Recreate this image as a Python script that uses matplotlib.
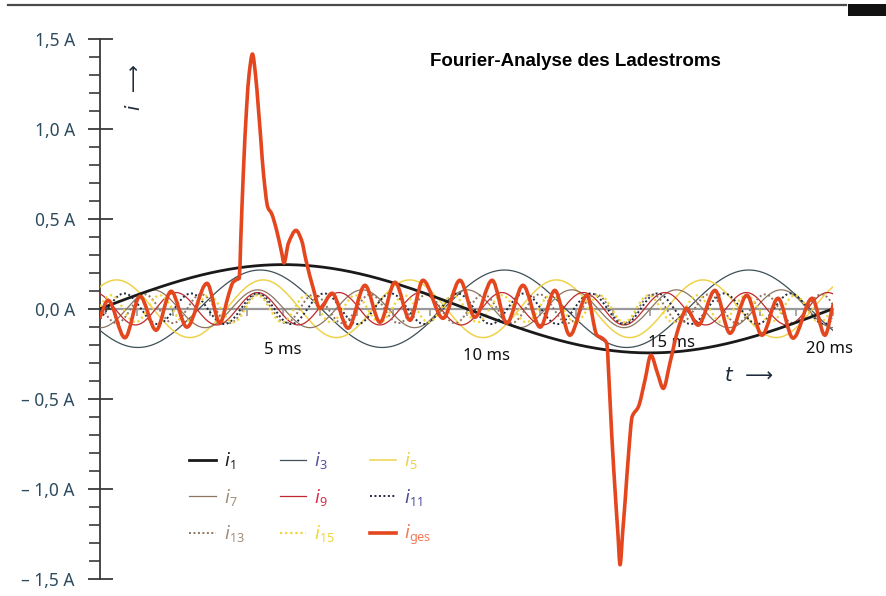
import numpy as np
import matplotlib.pyplot as plt
from matplotlib.path import Path
from matplotlib.patches import PathPatch
from matplotlib.lines import Line2D

# --- data -------------------------------------------------------------------
period_ms = 20.0
orders = [1, 3, 5, 7, 9, 11, 13, 15]
amplitudes = [0.245, 0.215, 0.16, 0.105, 0.09, 0.085, 0.08, 0.075]   # A
peak_times = [5.0, 4.37, 4.45, 4.3, 4.3, 4.3, 4.3, 4.3]              # ms, time of a maximum

# total charging current (ms, A)
ges_t = [0.00, 0.22, 0.68, 1.09, 1.53, 1.94, 2.37, 2.92, 3.27, 3.52, 3.63, 3.74,
         3.80, 3.84, 3.91, 4.00, 4.07, 4.16, 4.24, 4.32, 4.39, 4.46, 4.58, 4.68,
         4.82, 4.96, 5.02, 5.14, 5.35, 5.50, 5.62, 5.82, 6.00, 6.33, 6.77, 7.23,
         7.64, 8.05, 8.46, 8.81, 9.36, 9.82, 10.23, 10.70, 11.10, 11.54, 12.01,
         12.41, 12.82, 13.29, 13.56, 13.70, 13.83, 13.87, 13.96, 14.07, 14.13,
         14.19, 14.26, 14.33, 14.43, 14.52, 14.69, 14.87, 15.03, 15.21, 15.37,
         15.55, 15.74, 15.92, 15.99, 16.32, 16.78, 17.19, 17.65, 18.06, 18.50,
         18.91, 19.43, 19.78, 20.00]
ges_i = [-0.047, 0.047, -0.161, 0.069, -0.119, 0.097, -0.102, 0.141, -0.080, 0.086,
         0.147, 0.163, 0.169, 0.380, 0.751, 1.116, 1.305, 1.414, 1.305, 1.116,
         0.934, 0.751, 0.562, 0.529, 0.435, 0.308, 0.254, 0.363, 0.435, 0.380,
         0.269, 0.112, 0.001, 0.086, -0.108, 0.130, -0.075, 0.147, -0.064, 0.158,
         -0.053, 0.158, -0.047, 0.158, -0.080, 0.130, -0.102, 0.102, -0.147,
         0.075, -0.147, -0.163, -0.193, -0.322, -0.690, -1.061, -1.244, -1.421,
         -1.244, -1.061, -0.784, -0.599, -0.544, -0.396, -0.258, -0.357, -0.442,
         -0.302, -0.137, -0.027, 0.003, -0.091, 0.102, -0.136, 0.075, -0.147,
         0.058, -0.163, 0.058, -0.147, 0.019]

ytick_vals = [-1.5, -1.0, -0.5, 0.0, 0.5, 1.0, 1.5]
ytick_labels = ["– 1,5 A", "– 1,0 A", "– 0,5 A", "0,0 A", "0,5 A", "1,0 A", "1,5 A"]
xlabel_vals = [5, 10, 15, 20]
xlabel_texts = ["5 ms", "10 ms", "15 ms", "20 ms"]

# --- styles -------------------------------------------------------------------
line_colors = ["#1a1a1a", "#3f4f58", "#efd24a", "#8c7560", "#c0282d",
               "#1e2a40", "#8c7560", "#f0d53a"]
line_widths = [2.0, 0.9, 1.1, 0.9, 0.9, 1.4, 1.4, 1.6]
line_styles = ["-", "-", "-", "-", "-", (0, (1, 1.3)), (0, (1, 1.3)), (0, (1, 1.3))]
label_colors = ["#1a1a1a", "#5a4fa0", "#efd24a", "#a08c78", "#d8304a",
                "#4a4a9a", "#a08c78", "#f0d53a"]
ges_color = "#e4461e"


def smooth_path(xs, ys):
    # cubic Bezier segments through the read points, flat at local extrema
    xs = np.asarray(xs, float)
    ys = np.asarray(ys, float)
    d = np.diff(ys) / np.diff(xs)
    m = np.zeros_like(ys)
    m[0], m[-1] = d[0], d[-1]
    for k in range(1, len(ys) - 1):
        if d[k - 1] * d[k] > 0:
            m[k] = 2 / (1 / d[k - 1] + 1 / d[k])
    verts = [(xs[0], ys[0])]
    codes = [Path.MOVETO]
    for k in range(len(xs) - 1):
        h = (xs[k + 1] - xs[k]) / 3
        verts += [(xs[k] + h, ys[k] + m[k] * h),
                  (xs[k + 1] - h, ys[k + 1] - m[k + 1] * h),
                  (xs[k + 1], ys[k + 1])]
        codes += [Path.CURVE4] * 3
    return Path(verts, codes)


plt.rcParams["font.family"] = ["Noto Sans", "DejaVu Sans"]

fig = plt.figure(figsize=(8.87, 5.96), dpi=100)
ax = fig.add_axes([100 / 887, 1 - 579 / 596, 733 / 887, 540.5 / 596])

t = np.linspace(0, period_ms, 1200)
handles = []
for n, a, tp, c, lw, ls, lc in zip(orders, amplitudes, peak_times, line_colors,
                                   line_widths, line_styles, label_colors):
    y = a * np.cos(2 * np.pi * n * (t - tp) / period_ms)
    z = 4 if n == 1 else 3
    h, = ax.plot(t, y, color=c, lw=lw, ls=ls, zorder=z,
                 label=r"$i_{\mathregular{%d}}$" % n)
    handles.append(h)

ax.add_patch(PathPatch(smooth_path(ges_t, ges_i), fill=False, edgecolor=ges_color,
                       lw=2.6, zorder=6, joinstyle="round", capstyle="round"))
hg = Line2D([], [], color=ges_color, lw=2.6, label=r"$i_{\mathregular{ges}}$")
handles.append(hg)
label_colors.append("#f07a5a")

ax.set_xlim(0, period_ms)
ax.set_ylim(-1.5, 1.5)

# axes
for s in ["top", "right"]:
    ax.spines[s].set_visible(False)
ax.spines["left"].set_color("#3a3a3a")
ax.spines["left"].set_linewidth(1.3)
ax.spines["bottom"].set_position(("data", 0))
ax.spines["bottom"].set_color("#9a9a9a")
ax.spines["bottom"].set_linewidth(1.6)
ax.spines["bottom"].set_zorder(1)

ax.set_yticks(ytick_vals)
ax.set_yticklabels(ytick_labels, color="#2d4b5f", fontsize=12.5)
ax.set_yticks(np.arange(-1.5, 1.51, 0.1), minor=True)
ax.tick_params(axis="y", which="major", direction="inout", length=18, width=1.3,
               color="#3a3a3a", pad=9)
ax.tick_params(axis="y", which="minor", direction="out", length=8, width=1.2,
               color="#3a3a3a")

ax.set_xticks(np.arange(0, 21, 1))
ax.set_xticklabels([])
ax.tick_params(axis="x", which="major", direction="out", length=5, width=1.2,
               color="#9a9a9a")

label_offsets = [0.0, 0.55, 0.6, -0.1]
label_y = [-0.23, -0.26, -0.19, -0.225]
for v, s, dx, yy in zip(xlabel_vals, xlabel_texts, label_offsets, label_y):
    ax.text(v + dx, yy, s, ha="center", va="center", fontsize=12, color="#111111",
            clip_on=False)

# axis names
ax.text(0.95, 1.23, "i  ⟶", rotation=90, ha="center", va="center", fontsize=14,
        style="italic", family=["DejaVu Sans"], color="#1e2a3a")
ax.text(17.7, -0.37, "t  ⟶", ha="center", va="center", fontsize=14,
        style="italic", family=["DejaVu Sans"], color="#1e2a3a")

# legend (row-wise layout of the reference)
order = [0, 3, 6, 1, 4, 7, 2, 5, 8]
leg = ax.legend([handles[k] for k in order], [handles[k].get_label() for k in order],
                ncol=3, loc="upper left", bbox_to_anchor=(0.122, 0.238),
                frameon=False, fontsize=13, handlelength=1.45, handletextpad=0.45,
                columnspacing=1.95, labelspacing=0.85, borderaxespad=0, borderpad=0)
for txt, k in zip(leg.get_texts(), order):
    txt.set_color(label_colors[k])

fig.text(430 / 887, 1 - 61 / 596, "Fourier-Analyse des Ladestroms", fontsize=13.5,
         fontweight="bold", family=["Liberation Sans", "DejaVu Sans"],
         ha="left", va="center")

# frame decoration at the top
fig.add_artist(plt.Line2D([8 / 887, 846 / 887], [1 - 4.5 / 596, 1 - 4.5 / 596],
                          color="#4a4a4a", lw=1.6))
fig.add_artist(plt.Rectangle((848 / 887, 1 - 16 / 596), 39 / 887, 12 / 596,
                             color="#111111", lw=0))

fig.savefig("out.png", dpi=100)
